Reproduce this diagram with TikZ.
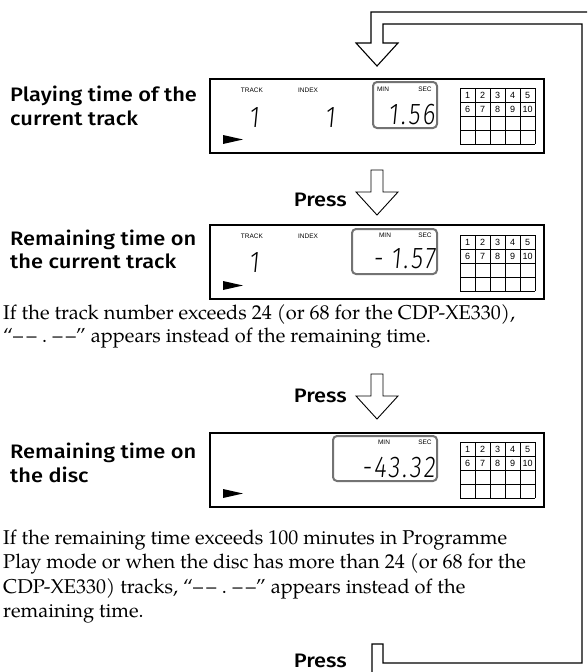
\documentclass[tikz,border=0pt]{standalone}
\usepackage{fontspec}
\newfontfamily\bodyfont{TeX Gyre Pagella}
\newfontfamily\labelfont{Fira Sans}[UprightFont={* Medium},FakeStretch=1.12]
\newfontfamily\lcdfont{Fira Sans}[UprightFont={* Light},FakeSlant=0.1,FakeStretch=0.8,LetterSpace=8]
\newfontfamily\panelfont{Liberation Sans}
\tikzset{
  panel/.style={draw,line width=1.6pt},
  timebox/.style={draw=black!55,line width=2pt,rounded corners=4pt},
  caption/.style={anchor=base west,inner sep=0pt,font=\labelfont\fontsize{19.5}{24}\selectfont},
  body/.style={anchor=base west,inner sep=0pt,font=\bodyfont\fontsize{20}{24}\selectfont},
  tiny/.style={inner sep=0pt,font=\panelfont\fontsize{6.5}{7}\selectfont},
  cellnum/.style={inner sep=0pt,font=\panelfont\fontsize{9}{9}\selectfont},
  lcd/.style={anchor=base east,inner sep=0pt,font=\lcdfont\fontsize{30}{30}\selectfont},
  press/.style={anchor=base east,inner sep=0pt,font=\labelfont\fontsize{19.5}{24}\selectfont},
  pressarrow/.pic={
    \draw[line width=0.9pt,line join=miter]
      (-6,0) -- (6,0) -- (6,22) -- (21,22) -- (0,45) -- (-21,22) -- (-6,22) -- cycle;
  },
  trackgrid/.pic={
    \foreach \i in {0,...,5}
      \draw[line width=0.8pt] (\i*15,0) -- (\i*15,56);
    \foreach \j in {0,...,4}
      \draw[line width=0.8pt] (0,\j*14) -- (75,\j*14);
    \foreach \n in {1,...,5}
      \node[cellnum] at (\n*15-7.5,7) {\n};
    \foreach \n in {6,...,10}
      \node[cellnum] at (\n*15-82.5,21) {\n};
  },
}
\begin{document}
\begin{tikzpicture}[x=1pt,y=-1pt]
\clip (0,0) rectangle (587,672);

% loop back to the top
\draw[line width=1.1pt,line join=miter]
  (372,690) -- (372,644) -- (383,644) -- (383,663) -- (582,663) -- (582,24)
  -- (383,24) -- (383,43) -- (398,43) -- (377,66) -- (356,43) -- (371,43)
  -- (371,12) -- (600,12);

% playing time of the current track
\node[caption] (cap1a) at (10,101) {Playing time of the};
\node[caption] (cap1b) at (10,125) {current track};
\draw[panel] (210,79) rectangle (544,153);
\node[tiny] (track1) at (252,90) {TRACK};
\node[tiny] (index1) at (308,90) {INDEX};
\draw[timebox] (373,82) rectangle (437,128);
\node[tiny] (min1) at (383,89) {MIN};
\node[tiny] (sec1) at (425,89) {SEC};
\node[lcd] (trk1) at (259,127) {1};
\node[lcd] (idx1) at (335,127) {1};
\node[lcd] (time1) at (435,124) {1.56};
\fill (223,135) -- (243,139.5) -- (223,144) -- cycle;
\pic at (460,88) {trackgrid};

% remaining time on the current track
\pic at (377,170) {pressarrow};
\node[press] (press1) at (347,206) {Press};
\node[caption] (cap2a) at (10,245) {Remaining time on};
\node[caption] (cap2b) at (10,268) {the current track};
\draw[panel] (210,225) rectangle (544,299);
\node[tiny] (track2) at (252,236) {TRACK};
\node[tiny] (index2) at (308,236) {INDEX};
\draw[timebox] (352,229) rectangle (437,274);
\node[tiny] (min2) at (385,235) {MIN};
\node[tiny] (sec2) at (425,235) {SEC};
\node[lcd] (trk2) at (259,272) {1};
\node[lcd] (time2) at (435,268) {-\hspace{8pt}1.57};
\fill (223,281) -- (243,285.5) -- (223,290) -- cycle;
\pic at (460,235) {trackgrid};

\node[body] (note1a) at (3,319) {If the track number exceeds 24 (or 68 for the CDP-XE330),};
\node[body] (note1b) at (3,342) {“–\,–\;.\;–\,–” appears instead of the remaining time.};

% remaining time on the disc
\pic at (377,374) {pressarrow};
\node[press] (press2) at (347,402) {Press};
\node[caption] (cap3a) at (10,458) {Remaining time on};
\node[caption] (cap3b) at (10,482) {the disc};
\draw[panel] (210,433) rectangle (544,507);
\draw[timebox] (333,436) rectangle (437,481);
\node[tiny] (min3) at (384,442) {MIN};
\node[tiny] (sec3) at (425,442) {SEC};
\node[lcd] (time3) at (435,477) {-43.32};
\fill (223,489) -- (243,493.5) -- (223,498) -- cycle;
\pic at (460,442) {trackgrid};

\node[body] (note2a) at (3,544) {If the remaining time exceeds 100 minutes in Programme};
\node[body] (note2b) at (3,568) {Play mode or when the disc has more than 24 (or 68 for the};
\node[body] (note2c) at (3,593) {CDP-XE330) tracks, “–\,–\;.\;–\,–” appears instead of the};
\node[body] (note2d) at (3,617) {remaining time.};

\node[press] (press3) at (347,667) {Press};
\end{tikzpicture}
\end{document}
